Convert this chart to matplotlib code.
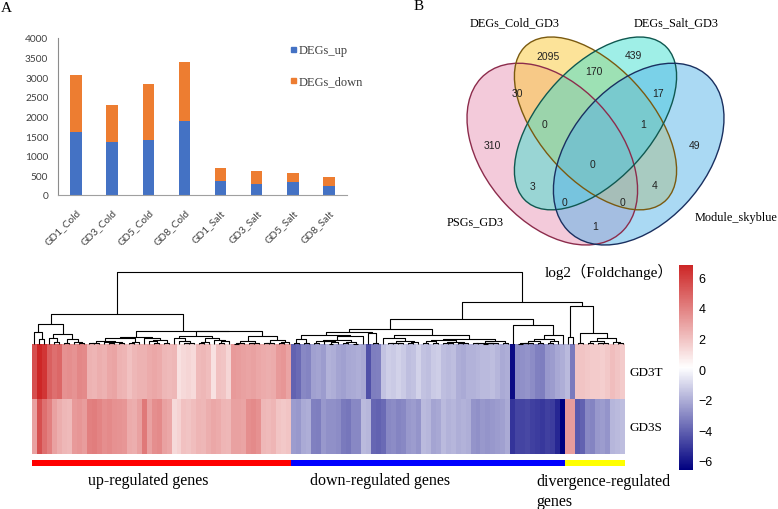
import numpy as np
import matplotlib
matplotlib.use('Agg')
import matplotlib.pyplot as plt
from matplotlib.patches import Ellipse, Rectangle
from matplotlib.colors import LinearSegmentedColormap, Normalize, ListedColormap

plt.rcParams['font.family'] = ['Lato', 'DejaVu Sans']

# ---------------- dados ----------------
# painel A: DEGs por amostra
samples = ['GD1_Cold', 'GD3_Cold', 'GD5_Cold', 'GD8_Cold',
           'GD1_Salt', 'GD3_Salt', 'GD5_Salt', 'GD8_Salt']
degs_up = [1595, 1356, 1407, 1876, 355, 272, 340, 221]
degs_down = [1467, 947, 1425, 1510, 345, 350, 212, 238]

# painel B: venn de 4 conjuntos
venn_sets = ['PSGs_GD3', 'DEGs_Cold_GD3', 'DEGs_Salt_GD3', 'Module_skyblue']
venn_counts = [310, 30, 2095, 170, 439, 17, 49, 0, 1, 0, 3, 4, 0, 0, 1]

# heatmap log2(Foldchange), uma coluna por gene
gd3t = [5.5, 6.8, 6.3, 5.0, 4.5, 4.8, 3.5, 3.6, 3.4, 3.8,
        3.7, 2.5, 2.4, 2.6, 2.5, 2.8, 2.9, 2.5, 2.4, 2.0,
        2.3, 2.5, 2.5, 2.7, 2.8, 2.7, 2.3, 2.2, 2.3, 1.0,
        1.3, 1.4, 1.2, 2.2, 2.3, 2.1, 1.0, 2.0, 1.9, 1.4,
        3.2, 3.1, 3.0, 2.9, 3.0, 2.8, 2.7, 2.6, 2.7, 3.2,
        3.3, 2.9, -4.0, -3.8, -3.0, -3.1, -2.4, -2.3, -2.5, -1.9,
        -2.0, -2.3, -2.4, -2.2, -2.1, -2.0, -2.2, -4.5, -3.3, -3.2,
        -1.5, -1.2, -1.3, -1.1, -1.3, -1.6, -1.5, -1.1, -1.5, -1.6,
        -1.3, -1.2, -1.6, -1.7, -1.6, -2.0, -2.1, -1.9, -1.9, -1.8,
        -1.7, -1.7, -1.6, -1.8, -2.1, -2.0, -6.3, -2.9, -2.8, -2.7,
        -2.9, -3.2, -3.3, -2.6, -2.5, -2.2, -2.0, -1.7, -3.4, 1.9,
        1.9, 1.8, 1.7, 1.7, 1.6, 1.8, 2.1, 1.9, 1.7]
gd3s = [3.0, 5.5, 4.5, 4.0, 3.0, 2.6, 2.3, 2.2, 3.2, 3.3,
        3.1, 4.0, 4.1, 3.9, 3.6, 3.7, 3.5, 3.4, 3.3, 2.7,
        2.6, 3.0, 4.2, 3.0, 3.6, 3.7, 3.0, 2.8, 1.3, 1.5,
        2.0, 1.9, 2.1, 2.4, 2.3, 2.6, 2.8, 2.7, 2.4, 2.3,
        3.0, 3.0, 2.9, 3.6, 3.7, 3.5, 2.3, 2.2, 2.4, 1.9,
        1.8, 1.9, -2.5, -2.6, -2.1, -2.0, -3.2, -3.3, -2.6, -2.8,
        -2.8, -2.9, -3.4, -3.5, -3.0, -3.0, -1.7, -1.8, -3.9, -4.0,
        -3.8, -3.0, -2.9, -3.1, -3.0, -2.6, -2.5, -2.7, -1.7, -1.8,
        -2.3, -2.2, -1.7, -1.9, -1.8, -2.0, -1.9, -2.0, -2.7, -2.8,
        -2.6, -2.7, -2.6, -2.5, -2.4, -2.1, -5.2, -4.8, -4.8, -4.7,
        -4.9, -5.0, -5.1, -4.9, -5.0, -5.6, -6.6, 3.2, 3.1, -4.2,
        -4.0, -3.0, -3.1, -2.6, -2.5, -2.7, -1.8, -1.7, -1.6]
row_names = ['GD3T', 'GD3S']
group_names = ['up-regulated genes', 'down-regulated genes', 'divergence-regulated\ngenes']
group_sizes = [52, 55, 12]
group_colors = ['#ff0000', '#0000ff', '#ffff00']

W, H = 778, 510
fig = plt.figure(figsize=(W / 100, H / 100), dpi=100)


def px_axes(x0, y0, x1, y1):
    return fig.add_axes([x0 / W, 1 - y1 / H, (x1 - x0) / W, (y1 - y0) / H])


def px_text(x, y, s, **kw):
    fig.text(x / W, 1 - y / H, s, **kw)


serif = 'Liberation Serif'
sans = 'Liberation Sans'

# ---------------- painel A ----------------
ax = px_axes(58, 39, 347, 196)
x = np.arange(len(samples))
ax.bar(x, degs_up, width=0.32, color='#4472C4')
ax.bar(x, degs_down, width=0.32, bottom=degs_up, color='#ED7D31')
ax.set_xlim(-0.5, len(samples) - 0.5)
ax.set_ylim(0, 4000)
ax.set_yticks(np.arange(0, 4001, 500))
ax.set_xticks(x)
ax.set_xticklabels(samples, rotation=45, ha='right', va='top', rotation_mode='anchor')
for s in ['top', 'right']:
    ax.spines[s].set_visible(False)
ax.spines['left'].set_color('#8c8c8c')
ax.spines['bottom'].set_color('#a0a0a0')
ax.tick_params(axis='both', length=0, labelsize=7.3, labelcolor='#404040')
ax.tick_params(axis='y', pad=7)
ax.tick_params(axis='x', pad=9)

# legenda manual
for lab, col, yb in [('DEGs_up', '#4472C4', 54.5), ('DEGs_down', '#ED7D31', 85)]:
    fig.patches.append(Rectangle((291 / W, 1 - (yb - 1.5) / H), 5 / W, 5 / H,
                                 transform=fig.transFigure, color=col))
    px_text(299, yb, lab, family=serif, fontsize=9, color='#404040', va='baseline')

px_text(6, 9, 'A', family=serif, fontsize=11, va='center', ha='center')
px_text(419, 6, 'B', family=serif, fontsize=11, va='center', ha='center')

# ---------------- painel B (venn) ----------------
ellipses = [((0.35, 0.47), 0.70, 0.46, -45), ((0.50, 0.57), 0.70, 0.38, -45),
            ((0.50, 0.57), 0.70, 0.38, 45), ((0.65, 0.47), 0.70, 0.46, 45)]
ext = [np.sqrt(((w / 2) ** 2 + (h / 2) ** 2) / 2) for _, w, h, _ in ellipses]
x_lo = min(c[0] - e for (c, _, _, _), e in zip(ellipses, ext))
x_hi = max(c[0] + e for (c, _, _, _), e in zip(ellipses, ext))
y_lo = min(c[1] - e for (c, _, _, _), e in zip(ellipses, ext))
y_hi = max(c[1] + e for (c, _, _, _), e in zip(ellipses, ext))

vax = px_axes(467, 38, 724, 246)
vax.set_xlim(x_lo, x_hi)
vax.set_ylim(y_lo, y_hi)
vax.axis('off')
fills = ['#e897b7', '#fbc935', '#40e0d0', '#56b4e9']
edges = ['#8c2c4c', '#7a5a10', '#105850', '#1a3060']
for (c, w, h, a), fc in zip(ellipses, fills):
    vax.add_patch(Ellipse(c, w, h, angle=a, facecolor=fc, alpha=0.5, edgecolor='none'))
for (c, w, h, a), ec in zip(ellipses, edges):
    vax.add_patch(Ellipse(c, w, h, angle=a, fill=False, edgecolor=ec, lw=1.0, clip_on=False))

count_pos = [(492, 146), (517, 94), (548, 57), (594, 72), (633, 56), (658, 94), (695, 146),
             (544, 125), (643, 125), (593, 165), (533, 187), (655, 186), (565, 203),
             (622, 203), (595, 227)]
for (px, py), n in zip(count_pos, venn_counts):
    px_text(px, py, str(n), family=sans, fontsize=7.5, ha='center', va='center', color='#222222')

set_pos = [(475, 222, 'center'), (515, 23, 'center'), (676, 23, 'center'), (695, 218, 'left')]
for (px, py, al), name in zip(set_pos, venn_sets):
    px_text(px, py, name, family=serif, fontsize=8.8, ha=al, va='center')

# ---------------- heatmap ----------------
mat = np.array([gd3t, gd3s])
n = mat.shape[1]
cmap = LinearSegmentedColormap.from_list('navy_fire', ['#000080', '#ffffff', '#cd2626'])
norm = Normalize(vmin=-6.6, vmax=6.8)

hax = px_axes(32, 345, 625, 455)
mesh = hax.pcolormesh(np.arange(n + 1), np.arange(3), mat, cmap=cmap, norm=norm)
hax.set_xlim(0, n)
hax.set_ylim(2, 0)
hax.axis('off')
for i, rn in enumerate(row_names):
    px_text(629, 373 + 55 * i, rn, family=serif, fontsize=9.5, va='center')


# dendrograma: complete linkage com restricao de contiguidade (mantem a ordem)
def contiguous_complete(X):
    dist = np.sqrt(((X[:, None, :] - X[None, :, :]) ** 2).sum(-1))
    clusters = [(np.array([i]), i + 0.5, 0.0) for i in range(len(X))]
    links = []
    while len(clusters) > 1:
        d = [dist[np.ix_(clusters[j][0], clusters[j + 1][0])].max()
             for j in range(len(clusters) - 1)]
        j = int(np.argmin(d))
        a, b = clusters[j], clusters[j + 1]
        links.append((a[1], a[2], b[1], b[2], d[j]))
        clusters[j:j + 2] = [(np.concatenate([a[0], b[0]]), (a[1] + b[1]) / 2, d[j])]
    return links


links = contiguous_complete(mat.T)
dax = px_axes(32, 273, 625, 345)
for xa, ha, xb, hb, hh in links:
    dax.plot([xa, xa, xb, xb], [ha, hh, hh, hb], color='black', lw=0.8,
             solid_capstyle='butt', clip_on=False)
dax.set_xlim(0, n)
dax.set_ylim(0, max(l[4] for l in links))
dax.axis('off')

# barra de grupos
gax = px_axes(32, 461, 625, 467)
groups = np.repeat(np.arange(len(group_sizes)), group_sizes)
gax.pcolormesh(np.arange(n + 1), [0, 1], groups[None, :], cmap=ListedColormap(group_colors),
               vmin=-0.5, vmax=len(group_sizes) - 0.5)
gax.set_xlim(0, n)
gax.axis('off')

px_text(148, 481, group_names[0], family=serif, fontsize=11.5, ha='center', va='center')
px_text(380, 481, group_names[1], family=serif, fontsize=11.5, ha='center', va='center')
px_text(536, 492, group_names[2], family=serif, fontsize=11.5, ha='left', va='center',
        linespacing=1.35)

# barra de cores
cax = px_axes(679, 266, 693, 471)
cb = fig.colorbar(mesh, cax=cax)
cb.outline.set_visible(False)
cb.set_ticks([-6, -4, -2, 0, 2, 4, 6])
cax.tick_params(length=0, labelsize=9, pad=4)
for t in cax.get_yticklabels():
    t.set_family(sans)
px_text(673, 272, 'log2（Foldchange）', family=[serif, 'Noto Sans CJK SC'], fontsize=11,
        ha='right', va='center')

plt.savefig('out.png', dpi=100)
